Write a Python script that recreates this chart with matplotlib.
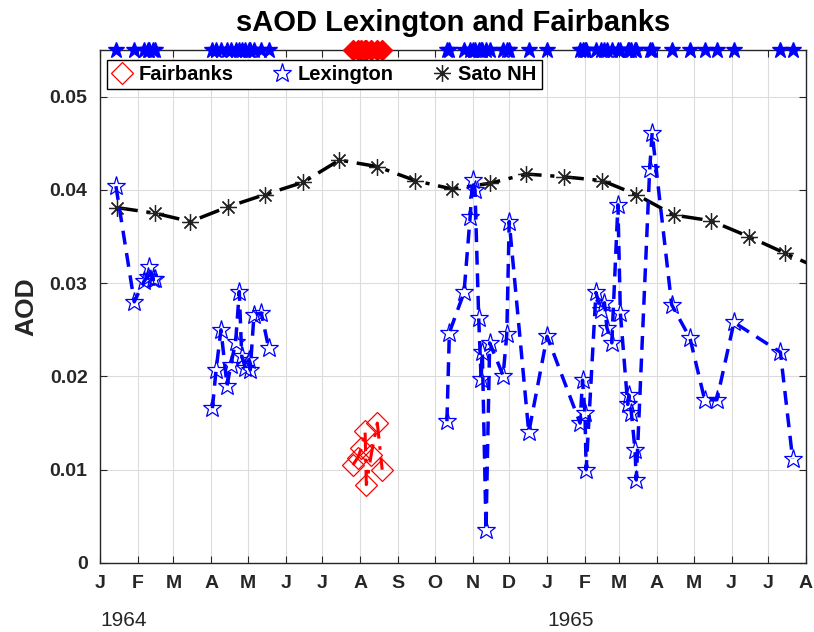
import numpy as np
import matplotlib
matplotlib.use("Agg")
import matplotlib.pyplot as plt
from matplotlib.lines import Line2D

plt.rcParams['font.family'] = ['Liberation Sans', 'DejaVu Sans']

# ---------------- data ----------------
lex_dates = [
    "1964-01-14", "1964-01-29", "1964-02-06", "1964-02-09", "1964-02-10", "1964-02-13", "1964-02-15",
    "1964-04-02", "1964-04-05", "1964-04-09", "1964-04-14", "1964-04-17", "1964-04-21", "1964-04-24",
    "1964-04-26", "1964-04-29", "1964-05-02", "1964-05-03", "1964-05-06", "1964-05-12", "1964-05-18",
    "1964-10-11", "1964-10-13", "1964-10-25", "1964-10-30", "1964-11-01", "1964-11-03", "1964-11-06",
    "1964-11-08", "1964-11-09", "1964-11-12", "1964-11-15", "1964-11-26", "1964-11-29", "1964-12-01",
    "1964-12-17", "1965-01-01",
    "1965-01-28", "1965-01-30", "1965-02-01", "1965-02-02", "1965-02-10", "1965-02-14", "1965-02-17",
    "1965-02-19", "1965-02-23", "1965-02-28", "1965-03-02", "1965-03-08", "1965-03-09", "1965-03-11",
    "1965-03-14", "1965-03-15", "1965-03-26", "1965-03-28", "1965-04-13", "1965-04-28", "1965-05-10",
    "1965-05-20", "1965-06-03", "1965-07-11", "1965-07-21",
]
lex_aod = [
    0.0404, 0.0280, 0.0302, 0.0307, 0.0317, 0.0304, 0.0304,
    0.0166, 0.0207, 0.0250, 0.0190, 0.0212, 0.0237, 0.0291,
    0.0222, 0.0209, 0.0218, 0.0207, 0.0266, 0.0268, 0.0231,
    0.0152, 0.0247, 0.0290, 0.0371, 0.0411, 0.0400, 0.0263,
    0.0197, 0.0226, 0.0035, 0.0236, 0.0201, 0.0245, 0.0366,
    0.0140, 0.0243,
    0.0150, 0.0196, 0.0161, 0.0100, 0.0290, 0.0271, 0.0279,
    0.0252, 0.0236, 0.0384, 0.0268, 0.0170, 0.0180, 0.0161,
    0.0121, 0.0089, 0.0422, 0.0461, 0.0277, 0.0241, 0.0175,
    0.0175, 0.0258, 0.0226, 0.0112,
]

fbk_dates = ["1964-07-26", "1964-07-30", "1964-08-02", "1964-08-05", "1964-08-06",
             "1964-08-10", "1964-08-15", "1964-08-19"]
fbk_aod = [0.0105, 0.0113, 0.0123, 0.0141, 0.0084, 0.0116, 0.0150, 0.0100]

sato_dates = ["1964-01-15", "1964-02-15", "1964-03-15", "1964-04-15", "1964-05-15", "1964-06-15",
              "1964-07-15", "1964-08-15", "1964-09-15", "1964-10-15", "1964-11-15", "1964-12-15",
              "1965-01-15", "1965-02-15", "1965-03-15", "1965-04-15", "1965-05-15", "1965-06-15",
              "1965-07-15", "1965-08-15"]
sato_aod = [0.0381, 0.0375, 0.0366, 0.0382, 0.0395, 0.0408, 0.0432, 0.0425, 0.0410, 0.0401,
            0.0407, 0.0417, 0.0414, 0.0410, 0.0395, 0.0373, 0.0367, 0.0350, 0.0332, 0.0314]

month_labels = ["J", "F", "M", "A", "M", "J", "J", "A", "S", "O", "N", "D",
                "J", "F", "M", "A", "M", "J", "J", "A"]
year_labels = ["1964", "1965"]
y_ticks = [0, 0.01, 0.02, 0.03, 0.04, 0.05]
y_tick_labels = ["0", "0.01", "0.02", "0.03", "0.04", "0.05"]

# ---------------- figure ----------------
lex_x = np.array(lex_dates, dtype="datetime64[D]")
fbk_x = np.array(fbk_dates, dtype="datetime64[D]")
sato_x = np.array(sato_dates, dtype="datetime64[D]")

# break the Lexington line across long observation gaps
gap_days = 42
lex_y = np.array(lex_aod, dtype=float)
breaks = np.where(np.diff(lex_x).astype(int) > gap_days)[0] + 1
lex_segments = np.split(np.arange(len(lex_x)), breaks)

fig = plt.figure(figsize=(8.14, 6.32), dpi=100)
ax = fig.add_axes([0.1229, 0.1092, 0.8673, 0.8117])

xmin = np.datetime64("1964-01-01")
xmax = np.datetime64("1965-08-01")
ytop = 0.055

ax.grid(True, color="#dcdcdc", linewidth=0.8)
ax.set_axisbelow(True)

dashdot = (0, (6, 2.5, 1.2, 2.5))

# Sato NH
ax.plot(sato_x, sato_aod, color="black", linestyle=dashdot, linewidth=2.5,
        marker=(8, 2, 0), markersize=12, markeredgewidth=0.9, markeredgecolor="#222222", zorder=3)

# Lexington
for seg in lex_segments:
    ax.plot(lex_x[seg], lex_y[seg], color="#0000ff", linestyle=(0, (4, 2.5)), linewidth=2.5,
            marker="*", markersize=14, markerfacecolor="none", markeredgecolor="#0000ff",
            markeredgewidth=0.9, zorder=4)

# Fairbanks
ax.plot(fbk_x, fbk_aod, color="#ff0000", linestyle=dashdot, linewidth=2.2,
        marker="D", markersize=11, markerfacecolor="none", markeredgecolor="#ff0000",
        markeredgewidth=0.9, zorder=4)

# observation date markers along the top
ax.plot(lex_x, np.full(len(lex_x), ytop), linestyle="none", marker="*", markersize=12,
        color="#0000ff", clip_on=False, zorder=6)
ax.plot(fbk_x, np.full(len(fbk_x), ytop), linestyle="none", marker="D", markersize=10,
        color="#ff0000", clip_on=False, zorder=6)

ax.set_xlim(xmin, xmax)
ax.set_ylim(0, ytop)

month_ticks = np.arange(np.datetime64("1964-01"), np.datetime64("1965-09"),
                        dtype="datetime64[M]").astype("datetime64[D]")
ax.set_xticks(month_ticks)
ax.set_xticklabels(month_labels, fontsize=14, fontweight="bold", color="#262626")
ax.set_yticks(y_ticks)
ax.set_yticklabels(y_tick_labels, fontsize=14, fontweight="bold", color="#262626")

ax.tick_params(axis="both", direction="in", length=5, width=0.8, color="#262626",
               top=True, right=True, pad=9)

for sp in ax.spines.values():
    sp.set_color("#262626")
    sp.set_linewidth(1.0)

# year labels
for lab in year_labels:
    xd = np.datetime64(lab + "-01-01")
    ax.text(xd, -0.0052, lab, fontsize=15, ha="left", va="top", color="#262626", clip_on=False)

ax.set_ylabel("AOD", fontsize=19, fontweight="bold", color="#262626", labelpad=8)
ax.set_title("sAOD Lexington and Fairbanks", fontsize=21, fontweight="bold", pad=14)

handles = [
    Line2D([], [], linestyle="none", marker="D", markersize=11, markerfacecolor="none",
           markeredgecolor="#ff0000", markeredgewidth=0.9),
    Line2D([], [], linestyle="none", marker="*", markersize=14, markerfacecolor="none",
           markeredgecolor="#0000ff", markeredgewidth=0.9),
    Line2D([], [], linestyle="none", marker=(8, 2, 0), markersize=12, markeredgecolor="#222222",
           markeredgewidth=0.9),
]
leg = ax.legend(handles, ["Fairbanks", "Lexington", "Sato NH"], ncol=3, loc="upper left",
                bbox_to_anchor=(0.0099, 0.9805), fancybox=False, framealpha=1, edgecolor="black",
                prop={"weight": "bold", "size": 14.5}, handlelength=1.0, handletextpad=0.3,
                columnspacing=1.9, borderpad=0.25, borderaxespad=0)
leg.get_frame().set_linewidth(1.0)
leg.set_zorder(10)

fig.savefig("out.png", dpi=100)
